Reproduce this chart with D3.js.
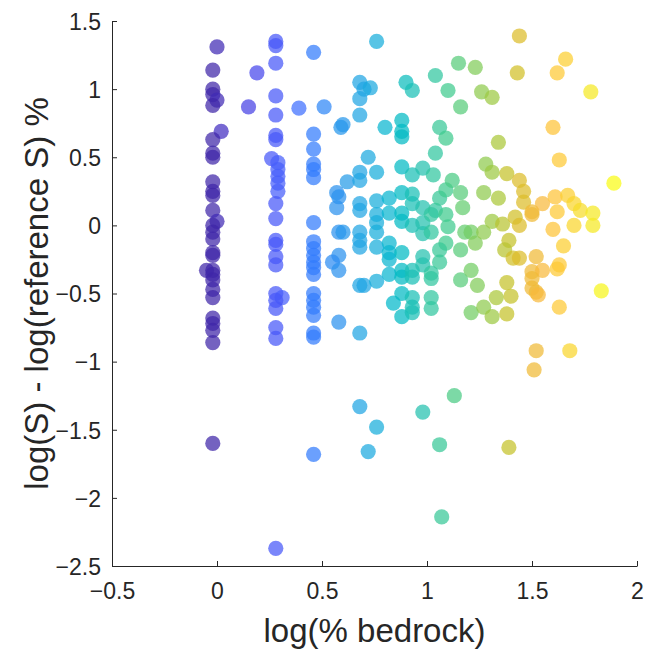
<!DOCTYPE html>
<html>
<head>
<meta charset="utf-8">
<script src="https://cdn.jsdelivr.net/npm/d3@7"></script>
<style>
  html, body { margin: 0; padding: 0; background: #fff; }
  svg { display: block; }
  text { font-family: "Liberation Sans", Arial, Helvetica, sans-serif; }
</style>
</head>
<body>
<svg id="chart" width="661" height="653"></svg>
<script>
// ---------------- data ----------------
const xTicks = [-0.5, 0, 0.5, 1, 1.5, 2];
const yTicks = [-2.5, -2, -1.5, -1, -0.5, 0, 0.5, 1, 1.5];
const xLabel = "log(% bedrock)";
const yLabel = "log(S) - log(reference S) %";

// log(% bedrock)
const xValues = [
  // column near 0
  0,-0.02,-0.02,-0.02,0,-0.02,0.02,-0.02,-0.02,-0.02,-0.02,-0.02,-0.02,-0.02,0,-0.02,-0.02,-0.02,-0.02,-0.02,-0.05,-0.02,-0.02,-0.02,-0.02,-0.02,-0.02,-0.02,-0.02,-0.02,-0.02,
  // column near 0.3
  0.28,0.28,0.28,0.28,0.28,0.28,0.28,0.26,0.29,0.29,0.29,0.29,0.29,0.28,0.28,0.28,0.28,0.28,0.28,0.28,0.31,0.28,0.28,0.28,0.28,0.28,0.19,0.15,
  // column near 0.46
  0.46,0.46,0.46,0.46,0.46,0.46,0.46,0.46,0.46,0.46,0.46,0.46,0.46,0.46,0.46,0.46,0.46,0.46,0.46,0.46,0.39,0.51,
  // 0.55 - 0.80
  0.57,0.58,0.57,0.58,0.60,0.58,0.55,0.58,0.58,0.59,0.60,0.62,
  0.68,0.68,0.68,0.68,0.68,0.68,0.70,0.68,0.68,0.68,0.68,0.68,0.68,0.70,0.73,0.72,0.68,0.72,
  0.76,0.76,0.76,0.76,0.76,0.76,0.76,0.76,0.76,0.80,
  // 0.80 - 1.05
  0.82,0.82,0.82,0.82,0.82,0.82,0.84,
  0.88,0.88,0.88,0.88,0.88,0.88,0.88,0.88,0.88,0.88,0.88,0.88,0.90,
  0.93,0.93,0.93,0.93,0.93,0.93,0.93,0.93,0.93,0.93,
  0.98,0.98,0.98,0.98,0.98,0.98,0.98,
  1.03,1.02,1.02,1.02,1.02,1.02,1.02,1.04,1.04,1.04,
  // 1.05 - 1.45
  1.06,1.09,1.09,1.10,1.09,1.06,1.06,1.06,1.09,1.10,1.06,1.07,
  1.12,1.13,1.15,1.16,1.16,1.17,1.16,1.16,1.18,
  1.21,1.23,1.21,1.24,1.21,1.23,
  1.27,1.27,1.26,1.31,1.28,1.31,1.31,1.27,1.31,
  1.34,1.34,1.33,1.36,1.38,1.38,1.40,1.38,1.39,1.39,1.37,1.41,
  1.44,1.43,1.44,1.46,1.46,1.42,1.44,1.44,
  // 1.45 - 1.9
  1.50,1.50,1.52,1.50,1.55,1.50,1.50,1.52,1.53,1.55,1.51,1.52,
  1.60,1.60,1.61,1.62,1.62,1.63,1.63,1.62,1.63,1.65,1.66,1.67,1.68,1.70,1.70,1.73,1.78,1.79,1.79,1.83,1.89
];

// log(S) - log(reference S) %
const yValues = [
  1.31,1.14,1.00,0.96,0.92,0.88,0.69,0.63,0.53,0.50,0.32,0.25,0.22,0.11,0.03,0.00,-0.05,-0.10,-0.20,-0.22,-0.33,-0.33,-0.36,-0.40,-0.47,-0.53,-0.68,-0.72,-0.77,-0.86,-1.60,
  1.35,1.32,1.19,0.95,0.81,0.66,0.63,0.49,0.46,0.41,0.36,0.31,0.25,0.16,0.05,-0.11,-0.14,-0.23,-0.29,-0.50,-0.53,-0.55,-0.61,-0.75,-0.83,-2.37,1.12,0.87,
  1.27,0.67,0.56,0.45,0.41,0.35,0.02,-0.12,-0.17,-0.22,-0.27,-0.31,-0.36,-0.50,-0.55,-0.60,-0.66,-0.79,-0.82,-1.68,0.86,0.87,
  0.24,0.21,0.13,-0.05,-0.05,-0.22,-0.27,-0.33,-0.71,0.72,0.74,0.32,
  0.16,0.11,-0.05,-0.11,-0.16,-0.44,-0.44,-0.79,0.93,0.81,0.39,0.33,1.05,1.00,1.01,0.50,-1.33,-1.66,
  1.35,0.39,0.18,0.08,0.02,-0.05,-0.16,-0.41,-1.48,0.72,
  0.20,0.09,-0.13,-0.20,-0.25,-0.36,-0.57,
  0.24,0.09,0.03,-0.20,-0.33,-0.38,-0.50,-0.67,0.77,0.69,0.65,0.43,1.05,
  0.99,0.23,0.16,0.00,0.37,-0.33,-0.38,-0.53,-0.60,-0.64,
  0.42,0.13,0.02,-0.06,-0.23,-0.29,-1.37,
  0.37,-0.35,-0.39,-0.53,-0.61,0.08,-0.05,0.11,0.53,1.10,
  0.20,0.26,0.08,-0.01,-0.13,-0.18,-0.27,0.72,0.64,0.99,-1.61,-2.14,
  0.33,-1.25,1.19,0.87,0.24,0.13,-0.18,-0.40,-0.05,
  -0.05,-0.13,-0.33,-0.44,-0.64,1.16,
  0.24,-0.05,0.98,0.94,0.45,0.39,0.03,-0.60,-0.67,
  0.20,0.61,-0.53,0.01,0.38,-0.42,-0.52,-0.65,-1.63,-0.11,-0.18,-0.24,
  1.39,1.12,0.33,0.25,0.17,0.06,0.00,-0.24,
  0.10,0.08,-0.23,-0.34,-0.33,-0.39,-0.46,-0.49,-0.51,0.16,-1.06,-0.92,
  0.72,-0.03,0.21,1.12,0.10,0.48,-0.29,-0.32,-0.60,-0.15,1.22,0.22,-0.92,0.16,0.00,0.11,0.98,0.09,0.00,-0.48,0.31
];

// MATLAB parula colormap (64 entries)
const parula = [
[0.2422,0.1504,0.6603],[0.2504,0.1650,0.7076],[0.2578,0.1818,0.7511],[0.2647,0.1978,0.7952],
[0.2706,0.2147,0.8364],[0.2751,0.2342,0.8710],[0.2783,0.2559,0.8991],[0.2803,0.2782,0.9221],
[0.2813,0.3006,0.9414],[0.2810,0.3228,0.9579],[0.2795,0.3447,0.9717],[0.2760,0.3667,0.9829],
[0.2699,0.3892,0.9906],[0.2602,0.4123,0.9952],[0.2440,0.4358,0.9988],[0.2206,0.4603,0.9973],
[0.1963,0.4847,0.9892],[0.1834,0.5074,0.9798],[0.1786,0.5289,0.9682],[0.1764,0.5499,0.9520],
[0.1687,0.5703,0.9359],[0.1540,0.5902,0.9218],[0.1460,0.6091,0.9079],[0.1380,0.6276,0.8973],
[0.1248,0.6459,0.8883],[0.1113,0.6635,0.8763],[0.0952,0.6798,0.8598],[0.0689,0.6948,0.8394],
[0.0297,0.7082,0.8163],[0.0036,0.7203,0.7917],[0.0067,0.7312,0.7660],[0.0433,0.7411,0.7394],
[0.0964,0.7500,0.7120],[0.1408,0.7584,0.6842],[0.1717,0.7670,0.6554],[0.1938,0.7758,0.6251],
[0.2161,0.7843,0.5923],[0.2470,0.7918,0.5567],[0.2906,0.7973,0.5188],[0.3406,0.8008,0.4789],
[0.3909,0.8029,0.4354],[0.4456,0.8024,0.3909],[0.5044,0.7993,0.3480],[0.5616,0.7942,0.3045],
[0.6174,0.7876,0.2612],[0.6720,0.7793,0.2227],[0.7242,0.7698,0.1910],[0.7738,0.7598,0.1646],
[0.8203,0.7498,0.1535],[0.8634,0.7406,0.1596],[0.9035,0.7330,0.1774],[0.9393,0.7288,0.2100],
[0.9728,0.7298,0.2394],[0.9956,0.7434,0.2371],[0.9970,0.7659,0.2199],[0.9952,0.7893,0.2028],
[0.9892,0.8136,0.1885],[0.9786,0.8386,0.1766],[0.9676,0.8639,0.1643],[0.9610,0.8890,0.1537],
[0.9597,0.9135,0.1423],[0.9628,0.9373,0.1265],[0.9691,0.9606,0.1064],[0.9769,0.9839,0.0805]
];

// ---------------- drawing ----------------
const margin = { left: 112, right: 661 - 637, top: 21, bottom: 653 - 566 };
const W = 661, H = 653;
const svg = d3.select("#chart");

const x = d3.scaleLinear().domain([-0.5, 2]).range([margin.left, W - margin.right]);
const y = d3.scaleLinear().domain([-2.5, 1.5]).range([H - margin.bottom, margin.top]);

const points = xValues.map((v, i) => ({ x: v, y: yValues[i] }));
const cExt = d3.extent(xValues);
const colorScale = d3.scaleQuantize().domain(cExt)
  .range(parula.map(c => d3.rgb(c[0] * 255, c[1] * 255, c[2] * 255).formatHex()));

svg.append("g")
  .selectAll("circle")
  .data(points)
  .join("circle")
  .attr("cx", d => x(d.x))
  .attr("cy", d => y(d.y))
  .attr("r", 7.6)
  .attr("fill", d => colorScale(d.x))
  .attr("fill-opacity", 0.72);

const axisColor = "#262626";

const gx = svg.append("g")
  .attr("transform", `translate(0,${H - margin.bottom})`)
  .call(d3.axisBottom(x).tickValues(xTicks).tickFormat(d3.format("")).tickSizeInner(-5).tickSizeOuter(0).tickPadding(17));

const gy = svg.append("g")
  .attr("transform", `translate(${margin.left},0)`)
  .call(d3.axisLeft(y).tickValues(yTicks).tickFormat(d3.format("")).tickSizeInner(-5).tickSizeOuter(0).tickPadding(11));

[gx, gy].forEach(g => {
  g.select(".domain").attr("stroke", axisColor).attr("stroke-width", 1);
  g.selectAll(".tick line").attr("stroke", axisColor).attr("stroke-width", 1);
  g.selectAll(".tick text").attr("fill", axisColor)
    .style("font-size", "23px")
    .style("font-family", "'Liberation Sans', Arial, sans-serif");
});
gy.selectAll(".tick text").attr("dy", "0.36em");

svg.append("text")
  .attr("x", (x.range()[0] + x.range()[1]) / 2)
  .attr("y", 642)
  .attr("text-anchor", "middle")
  .attr("fill", axisColor)
  .style("font-size", "33px")
  .text(xLabel);

svg.append("text")
  .attr("transform", `translate(48,${(y.range()[0] + y.range()[1]) / 2}) rotate(-90)`)
  .attr("text-anchor", "middle")
  .attr("fill", axisColor)
  .style("font-size", "33px")
  .text(yLabel);
</script>
</body>
</html>
